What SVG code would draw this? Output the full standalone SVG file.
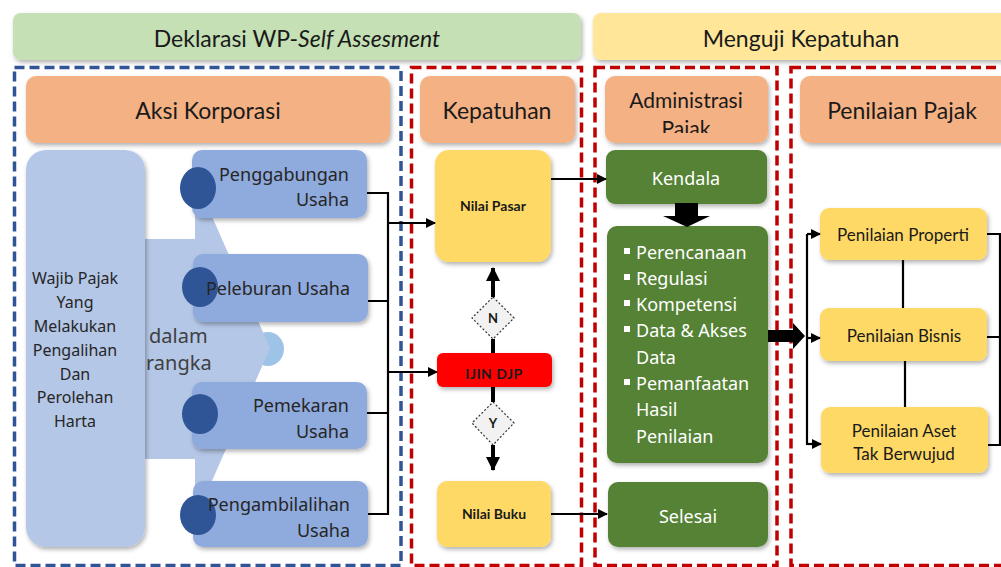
<svg xmlns="http://www.w3.org/2000/svg" width="1001" height="567" viewBox="0 0 1001 567">
<defs>
<filter id="sh" x="-10%" y="-10%" width="130%" height="140%">
<feDropShadow dx="1.5" dy="2.5" stdDeviation="2" flood-color="#000" flood-opacity="0.3"/>
</filter>
<marker id="ah" markerWidth="10" markerHeight="10" refX="9" refY="5" orient="auto" markerUnits="userSpaceOnUse" viewBox="0 0 10 10"><path d="M0,0 L10,5 L0,10 Z" fill="#000"/></marker>
<marker id="ahb" markerWidth="14" markerHeight="14" refX="13" refY="7" orient="auto" markerUnits="userSpaceOnUse" viewBox="0 0 14 14"><path d="M0,0 L14,7 L0,14 Z" fill="#000"/></marker>
<clipPath id="clipAdm"><rect x="605" y="76" width="163" height="57"/></clipPath>
</defs>
<style>
.lato{font-family:Lato,"Liberation Sans",sans-serif}
.plex{font-family:"Noto Sans","Open Sans",sans-serif}
.dark{fill:#1a1a1a}
.hdr{fill:#f4b183;filter:url(#sh)}
.item{fill:#8faadc;filter:url(#sh)}
.dot{fill:#2f5597}
.yel{fill:#ffd966;filter:url(#sh)}
.grn{fill:#548235;filter:url(#sh)}
.dashB{fill:none;stroke:#2f5597;stroke-width:3.5;stroke-dasharray:10 5}
.dashR{fill:none;stroke:#c00000;stroke-width:3.5;stroke-dasharray:10 5}
.ln{fill:none;stroke:#000;stroke-width:2.2}
.lnb{fill:none;stroke:#000;stroke-width:4}
.dia{fill:#f2f2f2;stroke:#333;stroke-width:1.2;stroke-dasharray:2 2}
.wt{fill:#fff}
.itxt{fill:#262626;font-size:18px}
.ltxt{fill:#fff;font-size:18px}
</style>
<rect width="1001" height="567" fill="#fff"/>

<g id="banner-deklarasi">
<rect x="13" y="13" width="568" height="47" rx="8" fill="#c5e0b4" filter="url(#sh)"/>
<text x="297" y="47" text-anchor="middle" class="lato dark" font-size="23">Deklarasi WP-<tspan font-style="italic">Self Assesment</tspan></text>
</g>
<g id="banner-menguji">
<rect x="593" y="13" width="420" height="47" rx="8" fill="#ffe699" filter="url(#sh)"/>
<text x="801" y="47" text-anchor="middle" class="lato dark" font-size="23">Menguji Kepatuhan</text>
</g>

<g id="frames">
<rect x="14.5" y="67.5" width="386.5" height="498" class="dashB"/>
<rect x="411.5" y="67.5" width="170" height="498" class="dashR"/>
<rect x="595" y="67.5" width="182" height="498" class="dashR"/>
<rect x="791" y="67.5" width="240" height="498" class="dashR"/>
</g>

<g id="hdr-aksi">
<rect x="26" y="76" width="364" height="67" rx="10" class="hdr"/>
<text x="208" y="119" text-anchor="middle" class="lato dark" font-size="23">Aksi Korporasi</text>
</g>
<g id="hdr-kepatuhan">
<rect x="420" y="76" width="155" height="67" rx="10" class="hdr"/>
<text x="497" y="119" text-anchor="middle" class="lato dark" font-size="23">Kepatuhan</text>
</g>
<g id="hdr-administrasi">
<rect x="605" y="76" width="163" height="67" rx="10" class="hdr"/>
<g clip-path="url(#clipAdm)">
<text x="686" y="108" text-anchor="middle" class="lato dark" font-size="21">Administrasi</text>
<text x="686" y="136" text-anchor="middle" class="lato dark" font-size="21">Pajak</text>
</g>
</g>
<g id="hdr-penilaian">
<rect x="800" y="76" width="215" height="67" rx="10" class="hdr"/>
<text x="902" y="119" text-anchor="middle" class="lato dark" font-size="23">Penilaian Pajak</text>
</g>

<g id="arrow-dalam-rangka">
<ellipse cx="268" cy="349" rx="16" ry="17" fill="#9dc3e6"/>
<polygon points="145,239 195,239 195,178 270,348 195,520 195,459 145,459" fill="#b4c7e7"/>
<text x="149" y="343" class="plex" font-size="20" fill="#404040">dalam</text>
<text x="146" y="370" class="plex" font-size="20" fill="#404040">rangka</text>
</g>

<g id="wajib-pajak">
<rect x="26" y="150" width="119" height="397" rx="20" fill="#b4c7e7" filter="url(#sh)"/>
<g class="plex itxt" text-anchor="middle" style="font-size:16px">
<text x="75" y="284">Wajib Pajak</text>
<text x="75" y="308">Yang</text>
<text x="75" y="332">Melakukan</text>
<text x="75" y="356">Pengalihan</text>
<text x="75" y="380">Dan</text>
<text x="75" y="403">Perolehan</text>
<text x="75" y="427">Harta</text>
</g>
</g>

<g id="penggabungan">
<rect x="192" y="150" width="175" height="68" rx="10" class="item"/>
<ellipse cx="198" cy="188" rx="18" ry="21" class="dot"/>
<text x="349" y="181" text-anchor="end" class="plex itxt">Penggabungan</text>
<text x="349" y="206" text-anchor="end" class="plex itxt">Usaha</text>
</g>
<g id="peleburan">
<rect x="193" y="254" width="175" height="68" rx="10" class="item"/>
<ellipse cx="200" cy="287" rx="18" ry="20" class="dot"/>
<text x="350" y="295" text-anchor="end" class="plex itxt">Peleburan Usaha</text>
</g>
<g id="pemekaran">
<rect x="192" y="382" width="175" height="67" rx="10" class="item"/>
<ellipse cx="200" cy="414" rx="18" ry="20" class="dot"/>
<text x="349" y="412" text-anchor="end" class="plex itxt">Pemekaran</text>
<text x="349" y="438" text-anchor="end" class="plex itxt">Usaha</text>
</g>
<g id="pengambilalihan">
<rect x="193" y="481" width="175" height="66" rx="10" class="item"/>
<ellipse cx="198" cy="515" rx="18" ry="20" class="dot"/>
<text x="350" y="511" text-anchor="end" class="plex itxt">Pengambilalihan</text>
<text x="350" y="537" text-anchor="end" class="plex itxt">Usaha</text>
</g>

<g id="nilai-pasar">
<rect x="435" y="150" width="116" height="112" rx="14" class="yel"/>
<text x="493" y="211" text-anchor="middle" class="lato dark" font-size="14" font-weight="bold">Nilai Pasar</text>
</g>
<g id="ijin-djp">
<rect x="437" y="353" width="115" height="34" rx="6" fill="#ff0000" filter="url(#sh)"/>
<text x="494" y="379" text-anchor="middle" class="lato dark" font-size="14" font-weight="bold" letter-spacing="0.5">IJIN DJP</text>
</g>
<g id="nilai-buku">
<rect x="437" y="481" width="114" height="66" rx="10" class="yel"/>
<text x="494" y="519" text-anchor="middle" class="lato dark" font-size="14" font-weight="bold">Nilai Buku</text>
</g>
<g id="diamond-n">
<polygon points="493,297 514,318 493,339 472,318" class="dia"/>
<text x="493" y="323" text-anchor="middle" class="lato dark" font-size="13" font-weight="bold">N</text>
</g>
<g id="diamond-y">
<polygon points="493,402 514,423 493,445 472,423" class="dia"/>
<text x="493" y="428" text-anchor="middle" class="lato dark" font-size="13" font-weight="bold">Y</text>
</g>

<g id="kendala">
<rect x="606" y="150" width="161" height="54" rx="9" class="grn"/>
<text x="686" y="185" text-anchor="middle" class="plex ltxt" font-size="19">Kendala</text>
</g>
<g id="list-kendala">
<rect x="607" y="226" width="161" height="237" rx="10" class="grn"/>
<g class="wt">
<rect x="624" y="248" width="6" height="6"/>
<rect x="624" y="274" width="6" height="6"/>
<rect x="624" y="300" width="6" height="6"/>
<rect x="624" y="326" width="6" height="6"/>
<rect x="624" y="379" width="6" height="6"/>
</g>
<g class="plex ltxt">
<text x="636" y="259">Perencanaan</text>
<text x="636" y="285">Regulasi</text>
<text x="636" y="311">Kompetensi</text>
<text x="636" y="337">Data &amp; Akses</text>
<text x="636" y="364">Data</text>
<text x="636" y="390">Pemanfaatan</text>
<text x="636" y="416">Hasil</text>
<text x="636" y="443">Penilaian</text>
</g>
</g>
<g id="selesai">
<rect x="608" y="482" width="160" height="65" rx="10" class="grn"/>
<text x="688" y="523" text-anchor="middle" class="plex ltxt" font-size="19">Selesai</text>
</g>

<g id="penilaian-properti">
<rect x="820" y="208" width="167" height="52" rx="9" class="yel"/>
<text x="903" y="241" text-anchor="middle" class="lato dark" font-size="17">Penilaian Properti</text>
</g>
<g id="penilaian-bisnis">
<rect x="820" y="308" width="167" height="53" rx="9" class="yel"/>
<text x="904" y="342" text-anchor="middle" class="lato dark" font-size="17">Penilaian Bisnis</text>
</g>
<g id="penilaian-aset">
<rect x="821" y="407" width="167" height="66" rx="9" class="yel"/>
<text x="904" y="437" text-anchor="middle" class="lato dark" font-size="17">Penilaian Aset</text>
<text x="904" y="460" text-anchor="middle" class="lato dark" font-size="17">Tak Berwujud</text>
</g>

<g id="connectors">
<path d="M367,193 H388 M368,301 H388 M367,413 H388 M368,514 H388 M388,192 V515" class="ln"/>
<path d="M388,223 H435" class="ln" marker-end="url(#ah)"/>
<path d="M388,372 H437" class="ln" marker-end="url(#ah)"/>
<path d="M551,179 H606" class="ln" marker-end="url(#ah)"/>
<path d="M551,514 H607" class="ln" marker-end="url(#ah)"/>
<path d="M493,353 V339" class="lnb"/>
<path d="M493,297 V268" class="lnb" marker-end="url(#ahb)"/>
<path d="M493,387 V402" class="lnb"/>
<path d="M493,445 V470" class="lnb" marker-end="url(#ahb)"/>
<polygon points="675,203 698,203 698,216 710,216 687,227 663,216 675,216" fill="#000"/>
<polygon points="768,330 793,330 793,323 805,336 793,349 793,342 768,342" fill="#000"/>
<path d="M807,234 V445" class="ln"/>
<path d="M807,234 H820" class="ln" marker-end="url(#ah)"/>
<path d="M807,338 H820" class="ln" marker-end="url(#ah)"/>
<path d="M807,444 H821" class="ln" marker-end="url(#ah)"/>
<path d="M903,260 V308 M905,361 V407" class="ln"/>
<path d="M987,234 H1000 V445 H988 M987,337 H1000" class="ln"/>
</g>
</svg>
